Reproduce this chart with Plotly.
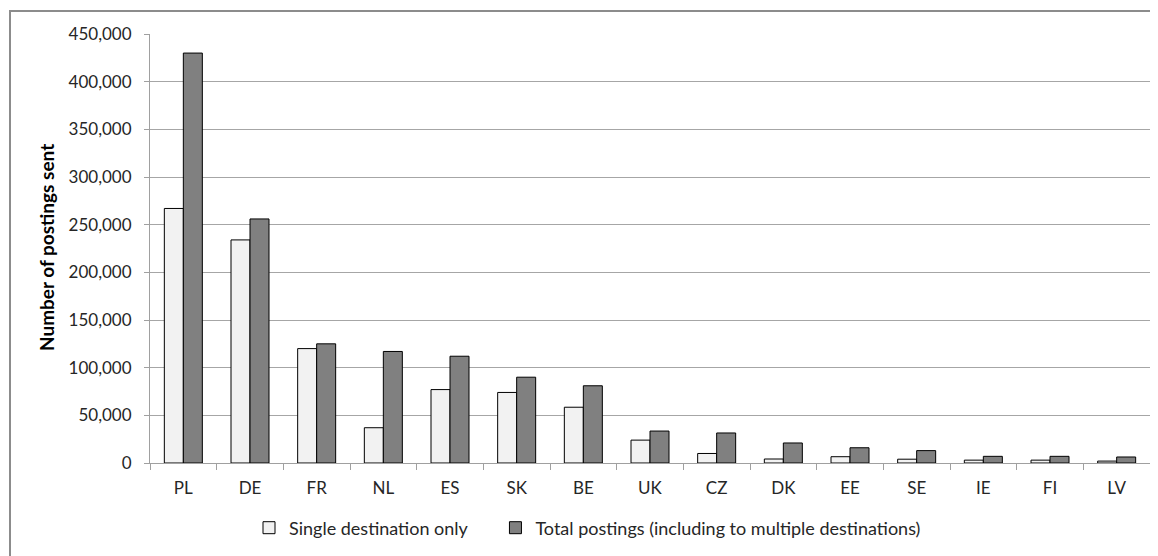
import plotly.graph_objects as go

countries = ["PL", "DE", "FR", "NL", "ES", "SK", "BE", "UK", "CZ", "DK", "EE", "SE", "IE", "FI", "LV"]
single_only = [267000, 234000, 120000, 37000, 77000, 74000, 58500, 24000, 10000, 4200, 6600, 4000, 3000, 3000, 2000]
total_postings = [430000, 256000, 125000, 117000, 112000, 90000, 81000, 33500, 31500, 21000, 16000, 13000, 7000, 7000, 6300]

y_ticks = [0, 50000, 100000, 150000, 200000, 250000, 300000, 350000, 400000, 450000]
y_tick_labels = ["0", "50,000", "100,000", "150,000", "200,000", "250,000", "300,000", "350,000", "400,000", "450,000"]

series_names = ["Single destination only", "Total postings (including to multiple destinations)"]

# page body has an 8px margin, so figure coords = screen coords - 8
OFF = 8
W, H = 1150, 548
L, R, T, B = 150 - OFF, 8, 34 - OFF, 548 - (463 - OFF)
pw, ph = W - L - R, H - T - B

def px_x(p):
    return (p - OFF - L) / pw

def px_y(p):
    return (H - B - (p - OFF)) / ph

FONT = "Lato, 'Open Sans', sans-serif"
TXT = "#262626"
NBSP = "\u00a0"

fig = go.Figure()
fig.add_trace(go.Bar(
    x=countries, y=single_only, name=series_names[0] + NBSP * 5,
    marker=dict(color="#f2f2f2", line=dict(color="#000000", width=1)),
))
fig.add_trace(go.Bar(
    x=countries, y=total_postings, name=series_names[1],
    marker=dict(color="#808080", line=dict(color="#000000", width=1)),
))

fig.update_layout(
    width=W, height=H,
    margin=dict(l=L, r=R, t=T, b=B, pad=0),
    paper_bgcolor="white", plot_bgcolor="white",
    barmode="group", bargap=0.43, bargroupgap=0,
    font=dict(family=FONT, size=17, color=TXT),
    showlegend=True,
    legend=dict(
        orientation="h", x=px_x(249), xanchor="left", y=px_y(528), yanchor="middle",
        font=dict(size=18, color=TXT), itemwidth=30, tracegroupgap=0,
        bgcolor="rgba(0,0,0,0)",
    ),
    xaxis=dict(
        showgrid=False, showline=True, linecolor="#a0a0a0", linewidth=1,
        ticks="outside", tickson="boundaries", ticklen=6, tickcolor="#a0a0a0",
        tickfont=dict(size=17, color=TXT), ticklabelstandoff=10, fixedrange=True,
    ),
    yaxis=dict(
        range=[0, 450000], tickvals=y_ticks, ticktext=y_tick_labels,
        showgrid=True, gridcolor="#a6a6a6", gridwidth=1,
        showline=True, linecolor="#a0a0a0", linewidth=1,
        ticks="outside", ticklen=5, tickcolor="#a0a0a0",
        tickfont=dict(size=17, color=TXT), ticklabelstandoff=9,
        zeroline=False, fixedrange=True,
    ),
    annotations=[
        dict(
            text="<b>Number of postings sent</b>", textangle=-90,
            xref="paper", yref="paper", x=px_x(46), y=px_y(248), xanchor="center", yanchor="middle",
            showarrow=False, font=dict(size=19, color="#000000", family=FONT),
        )
    ],
    shapes=[
        dict(
            type="rect", xref="paper", yref="paper",
            x0=px_x(10), x1=px_x(1175), y0=px_y(575), y1=px_y(11),
            line=dict(color="#8c8c8c", width=2), fillcolor="rgba(0,0,0,0)", layer="above",
        )
    ],
)

fig.write_html("out.html")
